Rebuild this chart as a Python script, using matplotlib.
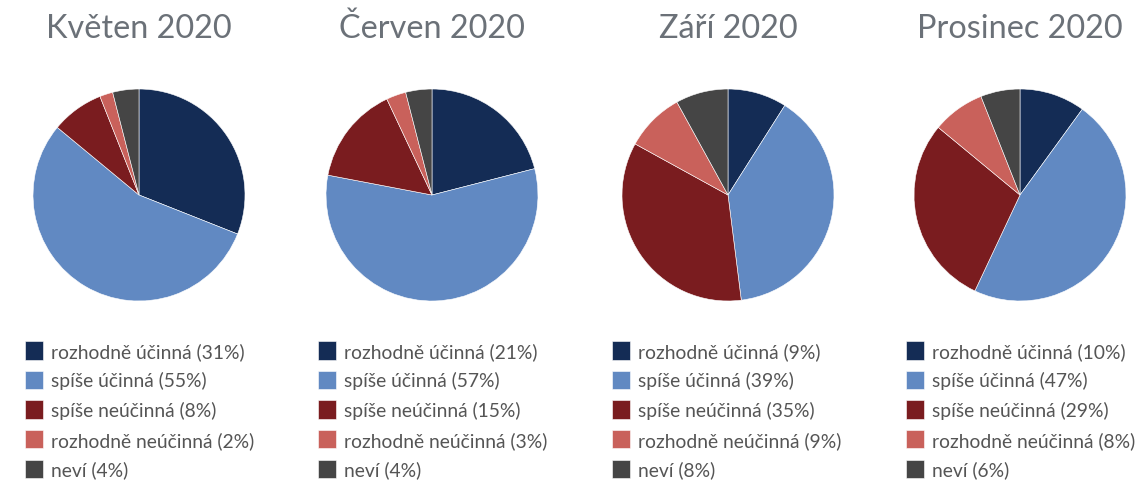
import matplotlib.pyplot as plt

plt.rcParams['font.family'] = ['Lato', 'DejaVu Sans']

# data
months = ['Květen 2020', 'Červen 2020', 'Září 2020', 'Prosinec 2020']
categories = ['rozhodně účinná', 'spíše účinná', 'spíše neúčinná',
              'rozhodně neúčinná', 'neví']
kveten = [31, 55, 8, 2, 4]
cerven = [21, 57, 15, 3, 4]
zari = [9, 39, 35, 9, 8]
prosinec = [10, 47, 29, 8, 6]
series = [kveten, cerven, zari, prosinec]

colors = ['#142c55', '#6189c2', '#7a1c1f', '#c9615b', '#454545']

W, H = 1138, 481
fig = plt.figure(figsize=(W / 100, H / 100), dpi=100)

centers = [139, 432, 728, 1020]
r = 106
cy = 196
leg_x = [25, 318, 612, 906]

for i in range(4):
    cx = centers[i]
    ax = fig.add_axes([(cx - r) / W, (H - cy - r) / H, 2 * r / W, 2 * r / H])
    wedges, _ = ax.pie(series[i], colors=colors, startangle=90, counterclock=False,
                       radius=1, wedgeprops=dict(linewidth=0.4, edgecolor='white'))
    ax.set_xlim(-1, 1)
    ax.set_ylim(-1, 1)
    ax.set_aspect('equal')
    fig.text(cx / W, (H - 29) / H, months[i], ha='center', va='center',
             fontsize=23.3, color='#6b7178')
    labels = [f'{c} ({v}%)' for c, v in zip(categories, series[i])]
    ax.legend(wedges, labels, loc='upper left', bbox_to_anchor=(leg_x[i] / W, (H - 342) / H),
              bbox_transform=fig.transFigure, frameon=False, fontsize=13.9,
              handlelength=0.95, handleheight=1.1, handletextpad=0.4,
              labelspacing=0.56, borderaxespad=0, borderpad=0,
              labelcolor='#555555')

fig.savefig('out.png', dpi=100)
